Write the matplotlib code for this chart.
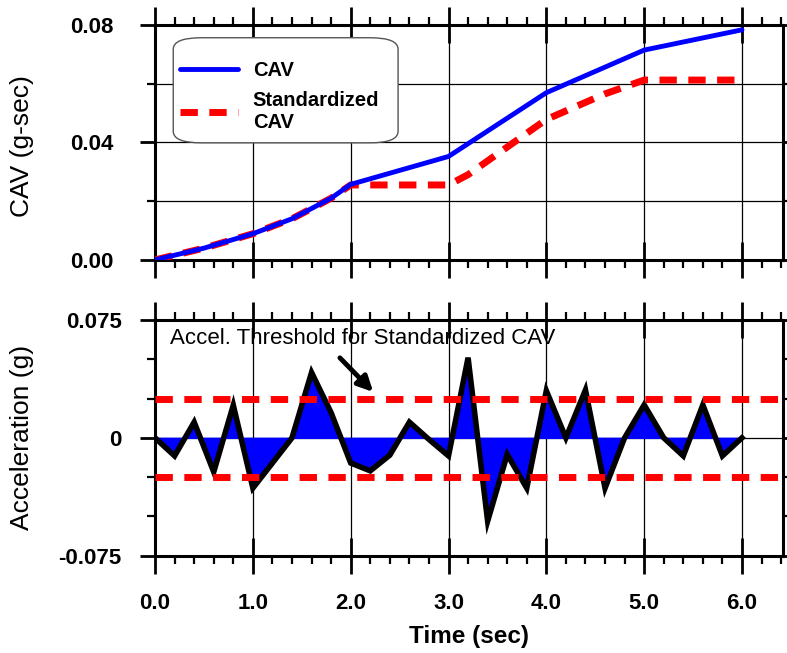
import numpy as np
import matplotlib
matplotlib.use("Agg")
import matplotlib.pyplot as plt
from matplotlib.ticker import MultipleLocator
from matplotlib.patches import FancyBboxPatch

plt.rcParams['font.family'] = ['Liberation Sans', 'DejaVu Sans']

# CAV curves (g-sec)
t_cav = [0.0, 0.5, 1.0, 1.4, 1.8, 2.0, 3.0, 4.0, 5.0, 6.0]
cav = [0.0, 0.0040, 0.0089, 0.0140, 0.0210, 0.0257, 0.0352, 0.0569, 0.0714, 0.0783]

t_std = [0.0, 0.5, 1.0, 1.4, 1.8, 2.0, 3.0, 3.2, 4.0, 4.6, 5.0, 6.0]
cav_std = [0.0, 0.0040, 0.0089, 0.0140, 0.0210, 0.0255, 0.0255, 0.0290, 0.0478, 0.0565, 0.0612, 0.0612]

# acceleration time history (g), 0.2 s steps
t_acc = [0.0, 0.2, 0.4, 0.6, 0.8, 1.0, 1.2, 1.4, 1.6, 1.8, 2.0, 2.2, 2.4, 2.6, 2.8, 3.0,
         3.2, 3.4, 3.6, 3.8, 4.0, 4.2, 4.4, 4.6, 4.8, 5.0, 5.2, 5.4, 5.6, 5.8, 6.0]
acc = [0.0, -0.0115, 0.0100, -0.0217, 0.0208, -0.0320, -0.0160, 0.0, 0.0416, 0.0160,
       -0.0160, -0.0210, -0.0110, 0.0100, -0.0010, -0.0115, 0.0510, -0.0530, -0.0106,
       -0.0320, 0.0300, 0.0, 0.0305, -0.0320, 0.0, 0.0210, 0.0, -0.0115, 0.0210, -0.0115, 0.0]
threshold = 0.025

red_dash = (0, (2.5, 1.65))

fig = plt.figure(figsize=(7.87, 6.53), dpi=100)
ax1 = fig.add_axes([0.197, 0.602, 0.798, 0.36])
ax2 = fig.add_axes([0.197, 0.149, 0.798, 0.361])

def style(ax, ypad):
    for sp in ax.spines.values():
        sp.set_linewidth(2.2)
    ax.tick_params(axis='x', which='major', direction='inout', length=26, width=2,
                   top=True, labelsize=16, pad=14)
    ax.tick_params(axis='y', which='major', direction='out', length=11, width=2,
                   right=True, labelsize=16, pad=ypad)
    ax.tick_params(which='minor', direction='out', length=6, width=1.6,
                   top=True, right=True)
    ax.xaxis.set_major_locator(MultipleLocator(1.0))
    ax.xaxis.set_minor_locator(MultipleLocator(0.2))
    ax.set_xlim(0, 6.42)

# top panel
ax1.plot(t_std, cav_std, color='red', lw=5, ls=red_dash,
         dash_capstyle='butt', label='Standardized\nCAV', zorder=3)
ax1.plot(t_cav, cav, color='blue', lw=3.5, solid_capstyle='round', label='CAV', zorder=4)
ax1.set_ylim(0, 0.08)
ax1.yaxis.set_minor_locator(MultipleLocator(0.02))
ax1.set_yticks([0.0, 0.04, 0.08])
ax1.set_yticklabels(['0.00', '0.04', '0.08'], fontweight='bold')
ax1.grid(True, which='major', axis='x', color='black', lw=0.9)
ax1.grid(True, which='both', axis='y', color='black', lw=0.9)
style(ax1, 19)
ax1.set_xticklabels([])
ax1.set_ylabel('CAV (g-sec)', fontsize=19)
ax1.yaxis.set_label_coords(-0.193, 0.485)

# legend box drawn by hand (rounded, grey edge)
box = FancyBboxPatch((0.029, 0.498), 0.358, 0.447, transform=ax1.transAxes,
                     boxstyle='round,pad=0,rounding_size=0.045', mutation_aspect=0.5/0.37*0.8,
                     facecolor='white', edgecolor='#555555', lw=1.0, zorder=6)
ax1.add_patch(box)
h, l = ax1.get_legend_handles_labels()
leg = ax1.legend(h[::-1], l[::-1], loc='upper left', bbox_to_anchor=(0.040, 0.847),
                 prop={'size': 14.5, 'weight': 'bold'}, frameon=False,
                 handlelength=2.85, handletextpad=0.75, borderpad=0, borderaxespad=0,
                 labelspacing=0.55)
leg.set_zorder(7)

# bottom panel
ax2.fill_between(t_acc, acc, 0, color='blue', zorder=2)
ax2.plot(t_acc, acc, color='black', lw=4, solid_joinstyle='miter', zorder=3)
ax2.axhline(threshold, color='red', lw=5, ls=red_dash, dash_capstyle='butt', zorder=4)
ax2.axhline(-threshold, color='red', lw=5, ls=red_dash, dash_capstyle='butt', zorder=4)
ax2.set_ylim(-0.075, 0.075)
ax2.yaxis.set_minor_locator(MultipleLocator(0.025))
ax2.set_yticks([-0.075, 0.0, 0.075])
ax2.set_yticklabels(['-0.075', '0', '0.075'], fontweight='bold')
ax2.grid(True, which='major', axis='both', color='black', lw=0.9)
style(ax2, 13)
ax2.set_xticks([0, 1, 2, 3, 4, 5, 6])
ax2.set_xticklabels([f'{v:.1f}' for v in range(7)], fontweight='bold')
ax2.set_xlabel('Time (sec)', fontsize=17.5, fontweight='bold', labelpad=8)
ax2.set_ylabel('Acceleration (g)', fontsize=19)
ax2.yaxis.set_label_coords(-0.193, 0.5)
ax2.annotate('', xy=(2.23, 0.0292), xytext=(1.89, 0.0509),
             arrowprops=dict(arrowstyle='-|>,head_length=0.9,head_width=0.45',
                             color='black', lw=3.5, shrinkA=0, shrinkB=0), zorder=5)
ax2.text(0.15, 0.0635, 'Accel. Threshold for Standardized CAV', fontsize=16,
         va='center', ha='left', zorder=5)

fig.savefig('out.png', dpi=100)
